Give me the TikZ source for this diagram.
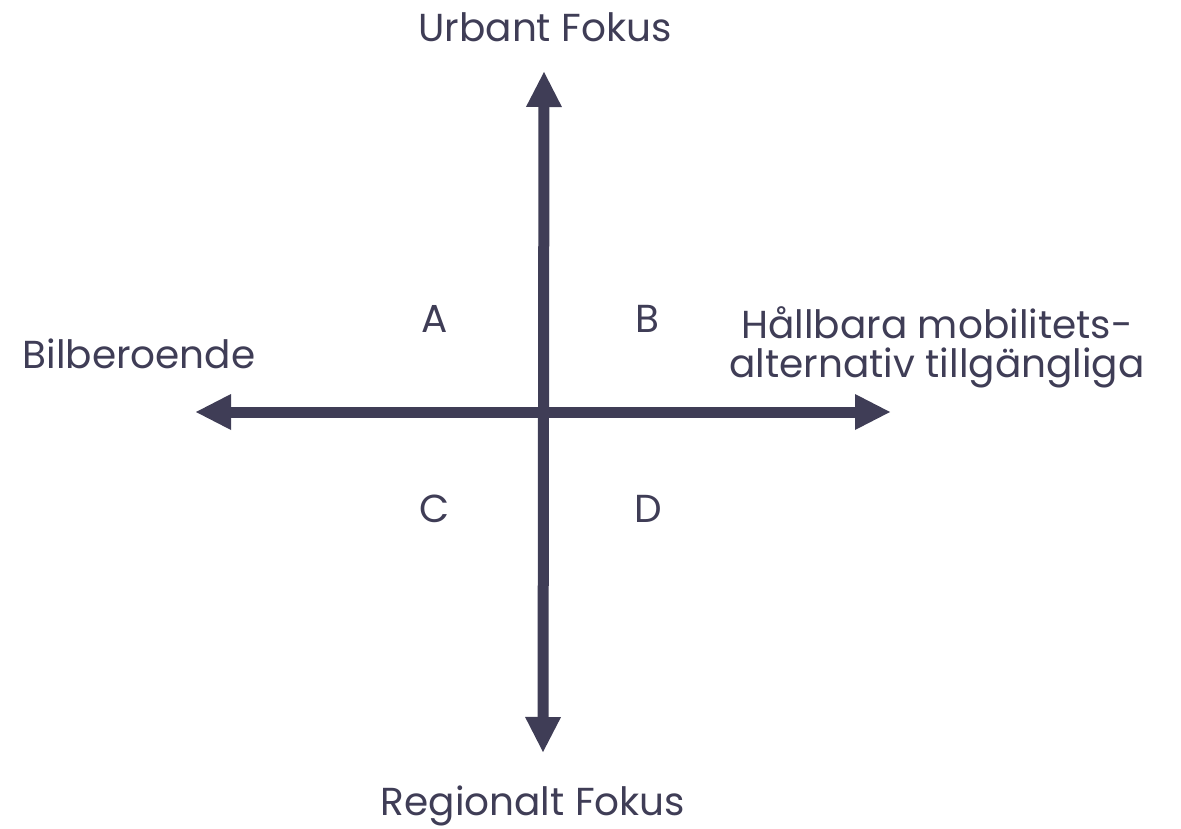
\documentclass[tikz,border=0pt]{standalone}
\usepackage{fontspec}
\setmainfont{Poppins}
\usetikzlibrary{arrows.meta}
\definecolor{axisgray}{HTML}{3F3D56}
\tikzset{
    axis/.style={line width=11pt, color=axisgray,
        {Triangle[length=35pt,width=36pt,line width=0pt]}-{Triangle[length=35pt,width=36pt,line width=0pt]}},
    label/.style={text=axisgray, font=\fontsize{39pt}{39pt}\selectfont, inner sep=0pt, anchor=base},
    quad/.style={text=axisgray, font=\fontsize{39pt}{39pt}\selectfont, inner sep=0pt, anchor=base}
}
\begin{document}
\begin{tikzpicture}[x=1pt, y=-1pt]
    \useasboundingbox (0, 0) rectangle (1181, 829);

    % axis ends
    \coordinate (top) at (544, 72);
    \coordinate (bottom) at (543, 752);
    \coordinate (left) at (196, 412);
    \coordinate (right) at (890, 412);

    \draw[axis] (bottom) -- (top);
    \draw[axis] (left) -- (right);

    % axis labels
    \node[label] (urban) at (545, 42) {Urbant Fokus};
    \node[label] (regional) at (533, 815) {Regionalt Fokus};
    \node[label] (car) at (139, 368) {Bilberoende};
    \node[label, align=center] (sustain) at (937, 377) {Hållbara mobilitets-\\alternativ tillgängliga};

    % quadrants
    \node[quad] (qa) at (435, 332) {A};
    \node[quad] (qb) at (647, 332) {B};
    \node[quad] (qc) at (435, 522) {C};
    \node[quad] (qd) at (648, 522) {D};
\end{tikzpicture}
\end{document}
